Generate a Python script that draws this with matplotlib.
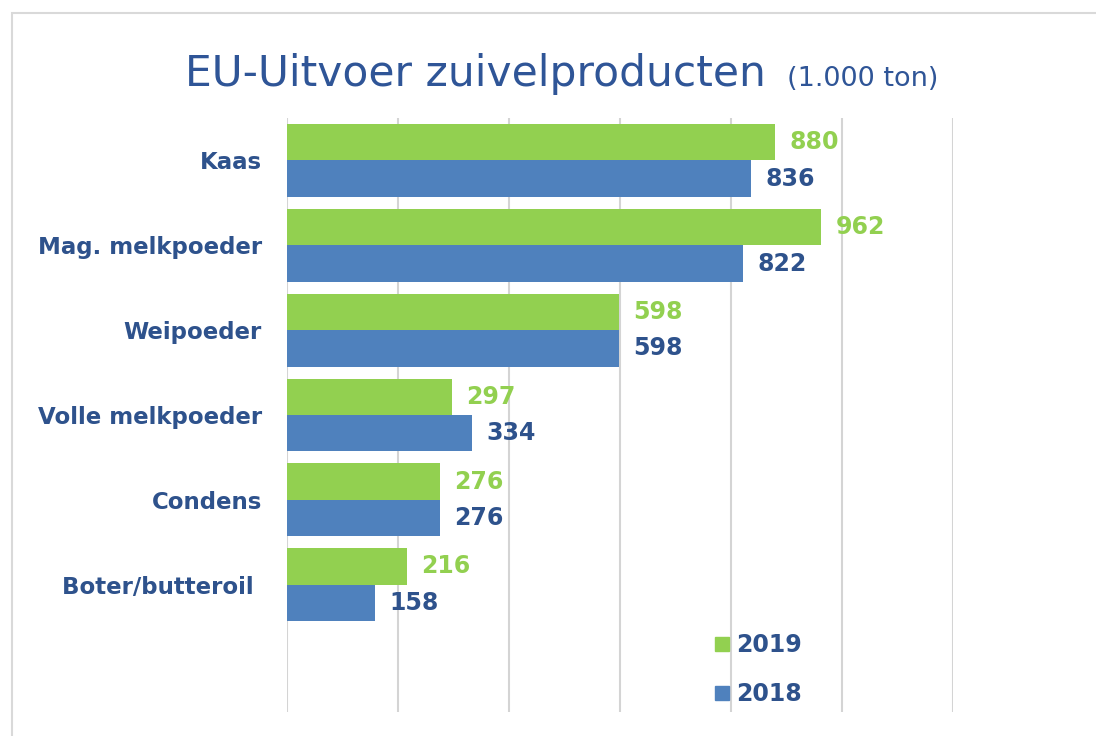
import numpy as np
import matplotlib.pyplot as plt
from matplotlib.lines import Line2D
from matplotlib.patches import Rectangle

categories = ["Kaas", "Mag. melkpoeder", "Weipoeder", "Volle melkpoeder", "Condens", "Boter/butteroil "]
v2019 = [880, 962, 598, 297, 276, 216]
v2018 = [836, 822, 598, 334, 276, 158]

green = "#92D050"
blue = "#4F81BD"
dark = "#2E528C"

fig = plt.figure(figsize=(10.96, 7.36), dpi=100)
fig.patches.append(Rectangle((12 / 1096, -0.1), 1.2, 1 - 13 / 736 + 0.1, transform=fig.transFigure,
                             fill=False, edgecolor="#D9D9D9", linewidth=1.5))

ax = fig.add_axes([287 / 1096, 1 - 712 / 736, 666 / 1096, 594 / 736])
y = np.arange(len(categories))
h = 0.43
ax.barh(y - h / 2, v2019, height=h, color=green, zorder=2)
ax.barh(y + h / 2, v2018, height=h, color=blue, zorder=2)

for i in range(len(categories)):
    ax.text(v2019[i] + 26, y[i] - h / 2, str(v2019[i]), color=green, fontsize=17,
            fontweight="bold", va="center", ha="left")
    ax.text(v2018[i] + 26, y[i] + h / 2, str(v2018[i]), color=dark, fontsize=17,
            fontweight="bold", va="center", ha="left")

ax.set_xlim(0, 1200)
ax.set_ylim(6.5, -0.5)
ax.set_xticks(np.arange(0, 1201, 200))
ax.xaxis.grid(True, color="#D4D4D4", linewidth=1.5, zorder=0)
ax.set_axisbelow(True)
ax.tick_params(axis="x", length=0, labelbottom=False)
ax.tick_params(axis="y", length=0, pad=18)
ax.set_yticks(y)
ax.set_yticklabels(categories, fontsize=16.5, fontweight="bold", color=dark)
for s in ax.spines.values():
    s.set_visible(False)

handles = [Line2D([], [], marker="s", color=green, linestyle="none", markersize=9.5),
           Line2D([], [], marker="s", color=blue, linestyle="none", markersize=9.5)]
leg = ax.legend(handles, ["2019", "2018"], loc="upper left", bbox_to_anchor=(0.61, 0.168),
                frameon=False, handlelength=0.6, handletextpad=0.3, labelspacing=1.05,
                prop={"size": 17, "weight": "bold"})
for t in leg.get_texts():
    t.set_color(dark)

fig.text(185 / 1096, 1 - 86 / 736, "EU-Uitvoer zuivelproducten", fontsize=30.5, color="#2F5597",
         va="baseline", ha="left")
fig.text(787 / 1096, 1 - 86 / 736, "(1.000 ton)", fontsize=19.5, color="#2F5597",
         va="baseline", ha="left")

plt.savefig("out.png", dpi=100)
plt.close()
